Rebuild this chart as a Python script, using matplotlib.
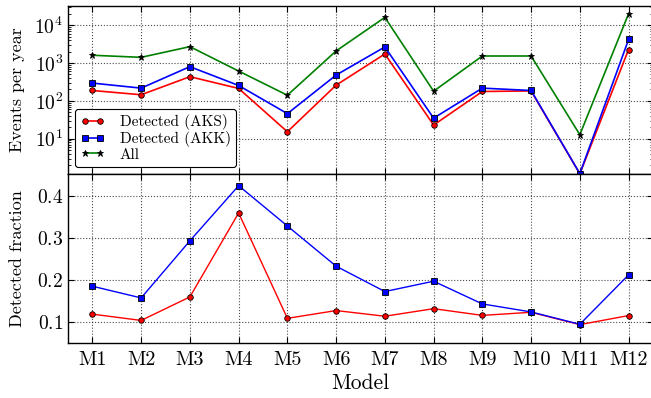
import matplotlib
matplotlib.use("Agg")
import matplotlib.pyplot as plt
import numpy as np

models = ["M1", "M2", "M3", "M4", "M5", "M6", "M7", "M8", "M9", "M10", "M11", "M12"]
det_aks = [188, 145, 435, 213, 15.3, 260, 1730, 23, 177, 183, 1.19, 2270]
det_akk = [295, 217, 800, 255, 46, 480, 2650, 35, 217, 188, 1.2, 4170]
all_ev = [1600, 1410, 2700, 612, 141, 2080, 16000, 180, 1530, 1530, 12.8, 20000]
frac_aks = [0.118, 0.103, 0.159, 0.359, 0.108, 0.1265, 0.113, 0.131, 0.115, 0.1224, 0.093, 0.1146]
frac_akk = [0.1845, 0.1566, 0.2926, 0.424, 0.328, 0.2322, 0.1718, 0.1964, 0.1423, 0.1232, 0.0938, 0.2115]

plt.rcParams['font.family'] = ['cmr10', 'DejaVu Serif']
plt.rcParams['mathtext.fontset'] = 'cm'
plt.rcParams['axes.formatter.use_mathtext'] = True
plt.rcParams['xtick.direction'] = 'in'
plt.rcParams['ytick.direction'] = 'in'
plt.rcParams['xtick.top'] = True
plt.rcParams['ytick.right'] = True
plt.rcParams['xtick.major.size'] = 4
plt.rcParams['ytick.major.size'] = 4
plt.rcParams['ytick.minor.size'] = 2
plt.rcParams['axes.linewidth'] = 1.0

fig = plt.figure(figsize=(6.51, 3.98), dpi=100)
x = np.arange(1, len(models) + 1)
left, right = 0.1045, 1.003
ax1 = fig.add_axes([left, 0.563, right - left, 0.985 - 0.563])
ax2 = fig.add_axes([left, 0.139, right - left, 0.563 - 0.139], sharex=ax1)

ms = 4
ax1.plot(x, det_aks, '-o', color='#ff0000', mfc='#ff0000', mec='k', mew=0.6, ms=ms, lw=1.2, label='Detected (AKS)')
ax1.plot(x, det_akk, '-s', color='#0000ff', mfc='#0000ff', mec='k', mew=0.6, ms=ms, lw=1.2, label='Detected (AKK)')
ax1.plot(x, all_ev, '-*', color='#008000', mfc='k', mec='k', mew=0.6, ms=5, lw=1.2, label='All')
ax1.set_yscale('log')
ax1.set_ylim(1.18, 3.2e4)
ax1.set_xlim(0.5, 12.5)
ax1.set_yticks([10, 100, 1000, 10000])
ax1.grid(True, color='k', linestyle=':', linewidth=0.8, alpha=0.7)
ax1.set_ylabel('Events per year', fontsize=13)
ax1.tick_params(labelsize=14, labelbottom=False)
leg = ax1.legend(loc='lower left', fontsize=11, numpoints=2,
                 fancybox=True, framealpha=1, edgecolor='k', handlelength=1.6,
                 handletextpad=1.0, borderpad=0.35, labelspacing=0.05, borderaxespad=0.45)
leg.get_frame().set_linewidth(0.8)

ax2.plot(x, frac_aks, '-o', color='#ff0000', mfc='#ff0000', mec='k', mew=0.6, ms=ms, lw=1.0)
ax2.plot(x, frac_akk, '-s', color='#0000ff', mfc='#0000ff', mec='k', mew=0.6, ms=ms, lw=1.0)
ax2.set_ylim(0.05, 0.452)
ax2.set_yticks([0.1, 0.2, 0.3, 0.4])
ax2.grid(True, color='k', linestyle=':', linewidth=0.8, alpha=0.7)
ax2.set_ylabel('Detected fraction', fontsize=13)
ax2.set_xticks(x)
ax2.set_xticklabels(models)
ax2.tick_params(axis='y', labelsize=14)
ax2.tick_params(axis='x', labelsize=14.5, pad=6)
ax2.set_xlabel('Model', fontsize=15.5, labelpad=3)

for ax in (ax1, ax2):
    ax.yaxis.set_label_coords(-0.074, 0.5)

fig.savefig('out.png', dpi=100)
